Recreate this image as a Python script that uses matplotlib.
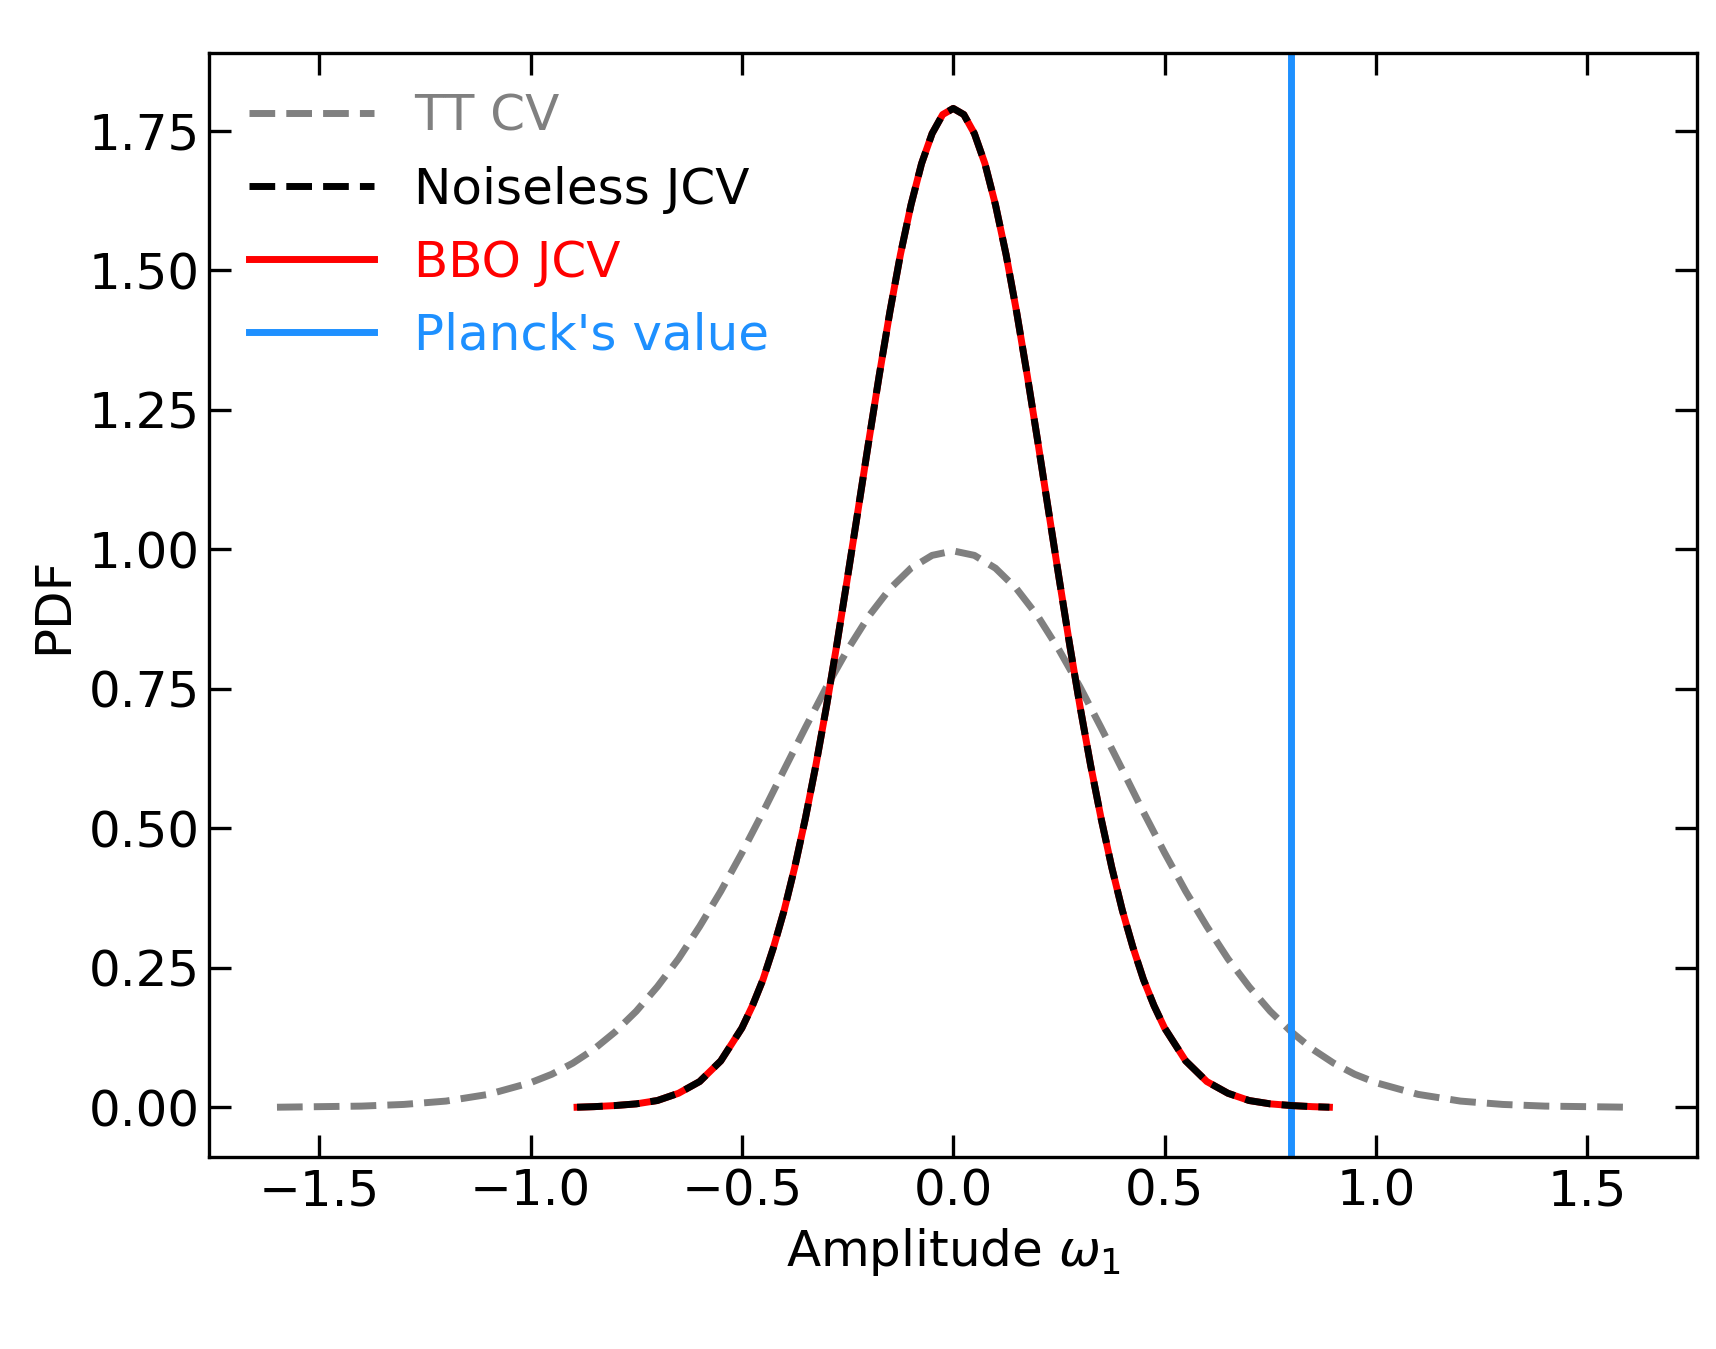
import matplotlib
matplotlib.use("Agg")
import matplotlib.pyplot as plt

tt_pos = [0.0,0.05,0.1,0.15,0.2,0.25,0.3,0.35,0.4,0.45,0.5,0.55,0.6,0.65,0.7,0.75,0.8,0.85,0.9,0.95,
          1.0,1.1,1.2,1.3,1.4,1.5,1.6]
tt_half = [0.997,0.989,0.966,0.929,0.880,0.820,0.753,0.680,0.605,0.529,0.456,0.387,0.324,0.266,0.216,0.172,
           0.135,0.104,0.079,0.059,0.044,0.023,0.011,0.005,0.002,0.001,0.000]
tt_x = [-v for v in reversed(tt_pos)] + tt_pos[1:]
tt_y = list(reversed(tt_half)) + tt_half[1:]

j_pos = [0.0,0.025,0.05,0.075,0.1,0.125,0.15,0.175,0.2,0.225,0.25,0.275,0.3,0.325,0.35,0.375,0.4,0.425,
         0.45,0.475,0.5,0.55,0.6,0.65,0.7,0.75,0.8,0.85,0.89]
j_half = [1.790,1.779,1.745,1.691,1.617,1.528,1.425,1.312,1.193,1.071,0.950,0.831,0.718,0.613,0.517,0.430,
          0.353,0.287,0.229,0.182,0.142,0.083,0.046,0.025,0.012,0.006,0.003,0.001,0.000]
jcv_x = [-v for v in reversed(j_pos)] + j_pos[1:]
jcv_y = list(reversed(j_half)) + j_half[1:]
bbo_y = jcv_y
planck = 0.8

plt.rcParams["font.size"] = 18
fig = plt.figure(figsize=(8.58, 6.745), dpi=200)
ax = fig.add_axes([0.122, 0.142, 0.867, 0.819])
ax.plot(tt_x, tt_y, color="gray", ls="--", lw=2.5, label="TT CV")
ax.plot(jcv_x, bbo_y, color="red", lw=2.5, label="BBO JCV", zorder=3)
ax.plot(jcv_x, jcv_y, color="black", ls="--", lw=2.5, label="Noiseless JCV", zorder=4)
ax.axvline(planck, color="dodgerblue", lw=2.5, label="Planck's value")
ax.set_xlim(-1.76, 1.76)
ax.set_ylim(-0.09, 1.89)
ax.set_xticks([-1.5,-1.0,-0.5,0.0,0.5,1.0,1.5])
ax.set_yticks([0,0.25,0.5,0.75,1.0,1.25,1.5,1.75])
ax.set_yticklabels(["0.00","0.25","0.50","0.75","1.00","1.25","1.50","1.75"])
ax.tick_params(direction="in", top=True, right=True, length=8, width=1.2)
for s in ax.spines.values():
    s.set_linewidth(1.2)
ax.set_xlabel(r"Amplitude $\omega_1$")
ax.set_ylabel("PDF")
h, l = ax.get_legend_handles_labels()
order = [0, 2, 1, 3]
leg = ax.legend([h[i] for i in order], [l[i] for i in order], frameon=False, loc="upper left",
                handlelength=2.5, borderaxespad=0.4)
for t, c in zip(leg.get_texts(), ["gray", "black", "red", "dodgerblue"]):
    t.set_color(c)
fig.savefig("out.png", dpi=200)
